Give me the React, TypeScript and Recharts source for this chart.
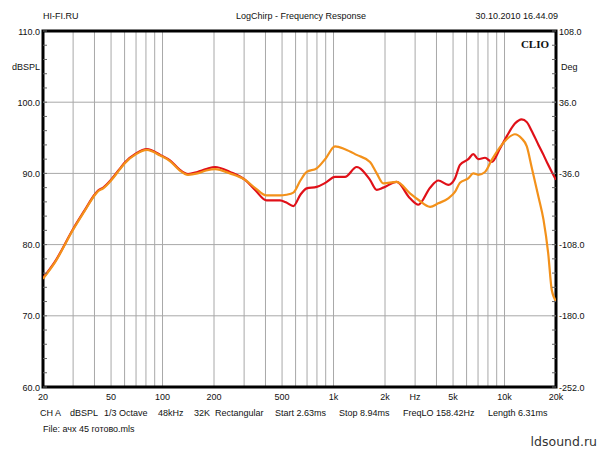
import { LineChart, Line, XAxis, YAxis, CartesianGrid, ReferenceLine, ReferenceArea } from 'recharts';

// frequency points (Hz) shared by both traces
const freqs = [
  20, 23.5, 30, 35, 40, 42, 45, 50, 56, 60,
  70, 81, 97, 111, 125, 141, 160, 180, 203, 248,
  304, 350, 406, 486, 530, 582, 640, 697, 797, 900,
  1020, 1167, 1366, 1634, 1789, 1954, 2340, 2800, 3130, 3670,
  4100, 4690, 5130, 5490, 6140, 6570, 7020, 7690, 8420, 9410,
  10300, 11500, 12600, 13500, 14400, 15800, 16900, 18000, 18900, 20000,
];

// dBSPL, red trace
const redSpl = [
  75.3, 77.6, 82.2, 84.8, 87.0, 87.6, 88.0, 89.1, 90.6, 91.5,
  92.8, 93.4, 92.6, 91.8, 90.6, 89.9, 90.2, 90.6, 90.9, 90.2,
  89.1, 87.6, 86.2, 86.2, 85.9, 85.4, 87.0, 87.9, 88.1, 88.7,
  89.5, 89.5, 90.9, 89.1, 87.7, 88.0, 88.8, 86.5, 85.6, 88.0,
  89.0, 88.4, 89.3, 91.2, 92.0, 92.7, 92.0, 92.2, 91.6, 93.5,
  95.2, 97.0, 97.6, 97.2, 96.0, 94.0, 92.6, 91.2, 90.2, 89.1,
];

// dBSPL, orange trace
const orangeSpl = [
  75.2, 77.5, 82.1, 84.7, 86.9, 87.5, 87.9, 89.0, 90.5, 91.4,
  92.7, 93.3, 92.5, 91.7, 90.5, 89.8, 90.0, 90.4, 90.6, 90.0,
  89.1, 87.9, 86.9, 86.9, 87.0, 87.3, 89.0, 90.2, 90.7, 92.1,
  93.8, 93.4, 92.6, 91.6, 90.0, 88.6, 88.8, 87.2, 86.3, 85.3,
  85.8, 86.5, 87.4, 88.7, 89.3, 90.0, 89.8, 90.2, 91.9, 93.7,
  94.8, 95.5, 94.9, 93.8, 90.9, 86.7, 83.5, 78.8, 73.6, 72.1,
];

const gridFreqs = [
  20, 30, 40, 50, 60, 70, 80, 90,
  100, 200, 300, 400, 500, 600, 700, 800, 900,
  1000, 2000, 3000, 4000, 5000, 6000, 7000, 8000, 9000,
  10000, 20000,
];
const freqLabels: Record<number, string> = {
  20: '20', 50: '50', 100: '100', 200: '200', 500: '500',
  1000: '1k', 2000: '2k', 3000: 'Hz', 5000: '5k', 10000: '10k', 20000: '20k',
};

const splTicks = [60, 62, 64, 66, 68, 70, 72, 74, 76, 78, 80, 82, 84, 86, 88, 90, 92, 94, 96, 98, 100, 102, 104, 106, 108, 110];
const splGrid = [70, 80, 90, 100];
const degMajor = [-252, -180, -108, -36, 36, 108];
const degTicks = Array.from({ length: 26 }, (_, i) => -252 + i * 14.4);

const footer = [
  { x: 40, t: 'CH A' },
  { x: 70, t: 'dBSPL' },
  { x: 104, t: '1/3 Octave' },
  { x: 158, t: '48kHz' },
  { x: 194, t: '32K' },
  { x: 215, t: 'Rectangular' },
  { x: 275, t: 'Start 2.63ms' },
  { x: 339, t: 'Stop 8.94ms' },
  { x: 403, t: 'FreqLO 158.42Hz' },
  { x: 488, t: 'Length 6.31ms' },
];

const data = freqs.map((f, i) => ({ f, red: redSpl[i], orange: orangeSpl[i] }));

const FONT = '"Liberation Sans", Arial, sans-serif';

function FreqTick({ x, y, payload }: any) {
  const label = freqLabels[payload.value];
  if (!label) return null;
  return (
    <text x={x} y={y} dy={13} textAnchor="middle" fontSize={9} fontFamily={FONT} fill="#111">
      {label}
    </text>
  );
}

function SplTick({ x, y, payload }: any) {
  const v = payload.value;
  return (
    <g>
      <line x1={x} x2={x + 4} y1={y} y2={y} stroke="#666" />
      {v % 10 === 0 && (
        <text x={x - 3} y={y} dy={3.5} textAnchor="end" fontSize={9} fontFamily={FONT} fill="#111">
          {v.toFixed(1)}
        </text>
      )}
    </g>
  );
}

function DegTick({ x, y, payload }: any) {
  const v = payload.value;
  const major = degMajor.some((m) => Math.abs(m - v) < 0.01);
  return (
    <g>
      <line x1={x - 4} x2={x} y1={y} y2={y} stroke="#666" />
      {major && (
        <text x={x + 3} y={y} dy={3.5} textAnchor="start" fontSize={9} fontFamily={FONT} fill="#111">
          {Math.round(v).toFixed(1)}
        </text>
      )}
    </g>
  );
}

export default function App() {
  return (
    <div style={{ position: 'absolute', left: 0, top: 0, width: 600, height: 450, background: '#fff' }}>
      <LineChart width={600} height={450} data={data} margin={{ top: 31, right: 0, bottom: 0, left: 0 }}>
        <CartesianGrid horizontal={false} stroke="#a8a8a8" yAxisId="left" />
        <XAxis
          dataKey="f"
          type="number"
          scale="log"
          domain={[20, 20000]}
          ticks={gridFreqs}
          allowDataOverflow
          height={63}
          axisLine={false}
          tickLine={false}
          tickSize={0}
          tickMargin={0}
          tick={<FreqTick />}
          interval={0}
        />
        <YAxis
          yAxisId="left"
          orientation="left"
          domain={[60, 110]}
          ticks={splTicks}
          width={43}
          axisLine={false}
          tickLine={false}
          tickSize={0}
          tickMargin={0}
          tick={<SplTick />}
          interval={0}
          allowDataOverflow
        />
        <YAxis
          yAxisId="right"
          orientation="right"
          domain={[-252, 108]}
          ticks={degTicks}
          width={44}
          axisLine={false}
          tickLine={false}
          tickSize={0}
          tickMargin={0}
          tick={<DegTick />}
          interval={0}
          allowDataOverflow
        />
        {splGrid.map((v) => (
          <ReferenceLine key={v} y={v} yAxisId="left" stroke="#a8a8a8" />
        ))}
        <Line
          yAxisId="left"
          type="monotone"
          dataKey="red"
          stroke="#e01018"
          strokeWidth={2.2}
          dot={false}
          isAnimationActive={false}
        />
        <Line
          yAxisId="left"
          type="monotone"
          dataKey="orange"
          stroke="#f3911a"
          strokeWidth={2.2}
          dot={false}
          isAnimationActive={false}
        />
        <ReferenceArea
          yAxisId="left"
          x1={20}
          x2={20000}
          y1={60}
          y2={110}
          fill="none"
          fillOpacity={0}
          stroke="#000"
          strokeWidth={3}
          ifOverflow="visible"
        />
      </LineChart>
      <svg width={600} height={450} style={{ position: 'absolute', left: 0, top: 0, pointerEvents: 'none' }}>
        <g fontFamily={FONT} fontSize={9} fill="#111">
          <text x={43} y={19}>HI-FI.RU</text>
          <text x={301} y={19} textAnchor="middle">LogChirp - Frequency Response</text>
          <text x={558} y={19} textAnchor="end">30.10.2010 16.44.09</text>
          <text x={12} y={70}>dBSPL</text>
          <text x={561} y={70}>Deg</text>
          {footer.map((s) => (
            <text key={s.t} x={s.x} y={416}>{s.t}</text>
          ))}
          <text x={43} y={432}>File: ачх 45 готово.mls</text>
        </g>
        <text x={549} y={48} textAnchor="end" fontFamily='"Liberation Serif", "DejaVu Serif", serif' fontWeight="bold" fontSize={11} fill="#111">
          CLIO
        </text>
        <text x={597} y={446} textAnchor="end" fontFamily='"DejaVu Sans", sans-serif' fontSize={12.5} fill="#333">
          ldsound.ru
        </text>
      </svg>
    </div>
  );
}
